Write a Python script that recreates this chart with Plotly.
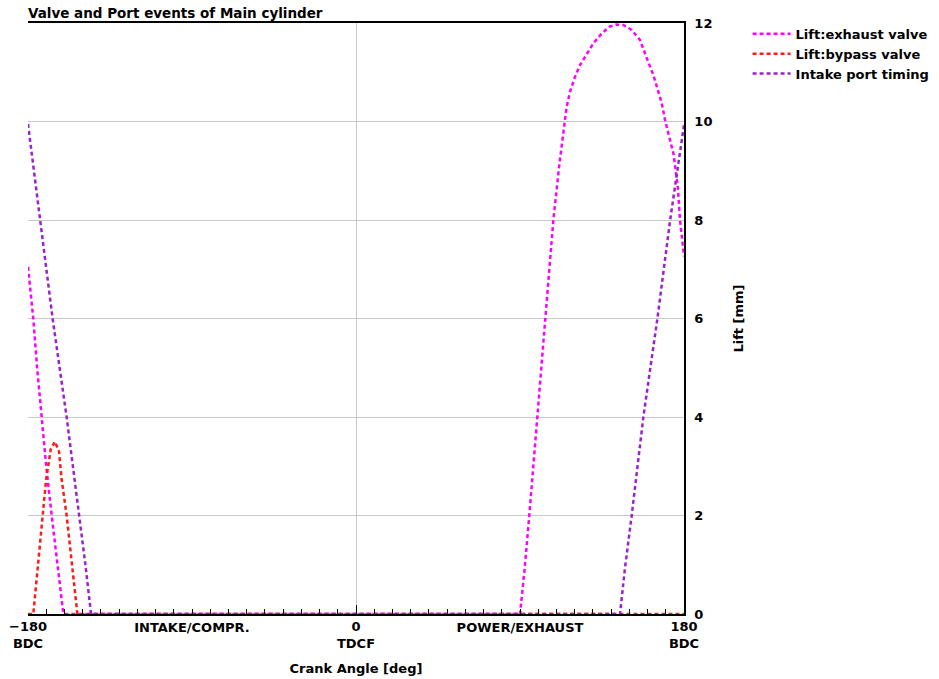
import plotly.graph_objects as go

# ---- data ----
exhaust_angle = [-180, -177.1, -175, -172.5, -170, -167, -164, -160.6,
                 90, 92.5, 95.1, 99.5, 104.1, 108.3, 111.5, 114.4, 115.6, 117.5,
                 120.2, 123, 126.6, 130.3, 134.9, 139.4, 142.7, 146.7, 151.3,
                 155.9, 158.6, 163.2, 167.8, 169.6, 174.2, 176.6, 177.8, 178.7, 180]
exhaust_lift = [7.05, 6.0, 5.0, 4.0, 3.0, 2.0, 1.0, 0.0,
                0.0, 0.9, 2.0, 4.0, 6.0, 8.0, 9.1, 10.03, 10.30, 10.61,
                10.91, 11.15, 11.38, 11.59, 11.79, 11.93, 11.97, 11.96, 11.86,
                11.65, 11.38, 10.94, 10.37, 10.03, 9.35, 8.68, 8.01, 7.66, 7.26]

bypass_angle = [-180, -177.1, -174.5, -172.1, -170.1, -167.5, -165.2, -163, -161.5,
                -158.8, -156, -152.9, 180]
bypass_lift = [0.0, 0.0, 1.0, 2.0, 2.72, 3.35, 3.5, 3.3, 2.72,
               2.0, 1.0, 0.0, 0.0]

intake_angle = [-180, -173.4, -166.5, -158.8, -151.8, -148.5, -145.4,
                144.9, 147.5, 151.3, 157.7, 165.4, 172.4, 180]
intake_lift = [9.95, 8.0, 6.0, 4.0, 2.0, 1.0, 0.0,
               0.0, 0.9, 2.0, 4.0, 6.0, 8.0, 9.93]

major_vals = [-180, 0, 180]
major_text = ["\u2212180<br>BDC", "0<br>TDCF", "180<br>BDC"]
phase_vals = [-90, 90]
phase_text = ["INTAKE/COMPR.", "POWER/EXHAUST"]
y_ticks = [0, 2, 4, 6, 8, 10, 12]

FONT = "DejaVu Sans"
DASH = "4px,3px"
BOLD = dict(family=FONT, size=13, color="black", weight="bold")

fig = go.Figure()
fig.add_trace(go.Scatter(x=exhaust_angle, y=exhaust_lift, mode="lines",
                         name="Lift:exhaust valve",
                         line=dict(color="#FF00FF", width=2.5, dash=DASH)))
fig.add_trace(go.Scatter(x=bypass_angle, y=bypass_lift, mode="lines",
                         name="Lift:bypass valve",
                         line=dict(color="#FF1A1A", width=2.5, dash=DASH)))
fig.add_trace(go.Scatter(x=intake_angle, y=intake_lift, mode="lines",
                         name="Intake port timing",
                         line=dict(color="#9A22CC", width=2.5, dash=DASH)))
# invisible trace to carry the phase labels axis
fig.add_trace(go.Scatter(x=[-180, 180], y=[0, 0], mode="lines", xaxis="x2",
                         showlegend=False, hoverinfo="skip",
                         line=dict(color="rgba(0,0,0,0)")))

fig.update_layout(
    width=939, height=679,
    margin=dict(l=28, r=255, t=23, b=65, autoexpand=False),
    paper_bgcolor="white", plot_bgcolor="white",
    font=BOLD,
    title=dict(text="Valve and Port events of Main cylinder",
               x=0.0298, xanchor="left", xref="container",
               y=0.981, yanchor="middle", yref="container",
               font=dict(family=FONT, size=13.5, color="black", weight="bold")),
    xaxis=dict(range=[-180, 180], tickvals=major_vals, ticktext=major_text,
               showgrid=True, gridcolor="#C8C8C8", gridwidth=1,
               showline=True, linecolor="black", linewidth=1.5, mirror=True,
               ticks="inside", ticklen=9, tickcolor="black", tickwidth=1,
               minor=dict(tick0=-180, dtick=10, ticks="inside", ticklen=5,
                          tickcolor="black", tickwidth=1, showgrid=False),
               zeroline=False, automargin=False,
               title=dict(text="Crank Angle [deg]", standoff=14, font=BOLD),
               tickfont=BOLD),
    xaxis2=dict(range=[-180, 180], overlaying="x", side="bottom",
                tickvals=phase_vals, ticktext=phase_text, showgrid=False,
                showline=False, ticks="", zeroline=False, ticklabelstandoff=4,
                automargin=False, tickfont=BOLD),
    yaxis=dict(range=[0, 12], tickvals=y_ticks, side="right",
               showgrid=True, gridcolor="#C8C8C8", gridwidth=1,
               showline=True, linecolor="black", linewidth=1.5,
               ticks="", zeroline=False, ticklabelstandoff=6, automargin=False,
               title=dict(text="Lift [mm]", standoff=22, font=BOLD),
               tickfont=BOLD),
    legend=dict(x=1.0969, y=1.007, xanchor="left", yanchor="top",
                bgcolor="rgba(0,0,0,0)", tracegroupgap=0,
                font=BOLD, itemwidth=38),
    showlegend=True,
)

fig.write_html("out.html")
